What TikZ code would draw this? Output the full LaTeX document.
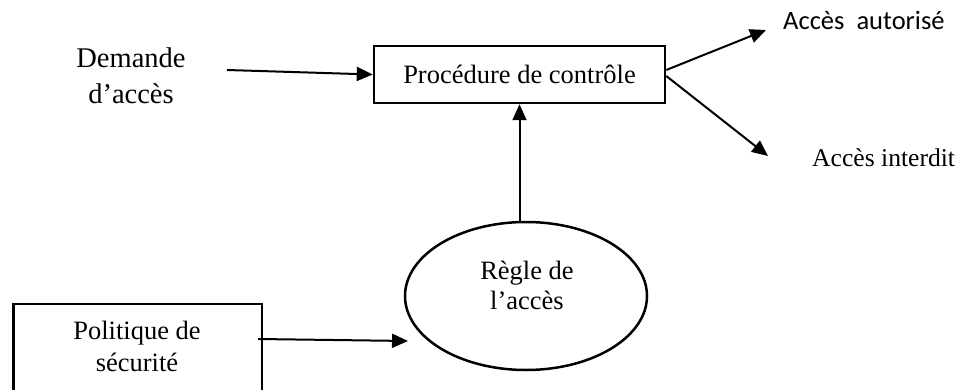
\documentclass[tikz,border=0pt]{standalone}
\usepackage{fontspec}
\setmainfont{Liberation Serif}
\newfontfamily\calibrifont{Carlito}
\usetikzlibrary{arrows.meta,shapes.geometric}

\tikzset{
  box/.style={draw, line width=2.5pt, rectangle, inner sep=0pt},
  oval/.style={draw, line width=2.5pt, ellipse, inner sep=0pt,
               minimum width=242pt, minimum height=148pt},
  lbl/.style={align=center, inner sep=0pt, font=\fontsize{26.5}{31}\selectfont},
  arr/.style={line width=2pt, -{Triangle[length=16pt,width=14pt]}},
}

\begin{document}
\begin{tikzpicture}[x=1pt,y=-1pt]
  \useasboundingbox (0,0) rectangle (963,390);

  % control procedure box
  \node[box, minimum width=291pt, minimum height=57pt,
        font=\fontsize{26.5}{31}\selectfont] (proc) at (519.5,74.5)
        {Procédure de contrôle};

  % incoming request
  \node[lbl, font=\fontsize{28.5}{36}\selectfont] (demande) at (131,75.5)
        {Demande\\d’accès};
  \coordinate (dstart) at (227,70);
  \draw[arr] (dstart) -- (proc.west);

  % outcomes
  \node[inner sep=0pt, anchor=base west, font=\calibrifont\fontsize{26.5}{31}\selectfont]
        (autorise) at (783,30) {Accès\ \ autorisé};
  \node[inner sep=0pt, anchor=base west, font=\fontsize{25.6}{31}\selectfont]
        (interdit) at (812,167) {Accès interdit};
  \coordinate (tipA) at (766,30);
  \coordinate (tipB) at (768,156);
  \draw[arr] (proc.east |- 0,70) -- (tipA);
  \draw[arr] (proc.east |- 0,76) -- (tipB);

  % access rule
  \node[oval] (regle) at (526,296) {};
  \node[lbl, font=\fontsize{26.5}{30}\selectfont] (regletext) at (527,285.5)
        {Règle de\\l’accès};
  \draw[arr] (proc.south |- regle.north) -- (proc.south);

  % security policy (box runs off the lower edge)
  \node[box, minimum width=248.5pt, minimum height=120pt] (pol) at (137.5,364) {};
  \node[lbl, font=\fontsize{26.5}{32}\selectfont] (poltext) at (137,346.5)
        {Politique de\\sécurité};
  \coordinate (pstart) at (258,339);
  \coordinate (tipC) at (408,341);
  \draw[arr] (pstart) -- (tipC);
\end{tikzpicture}
\end{document}
